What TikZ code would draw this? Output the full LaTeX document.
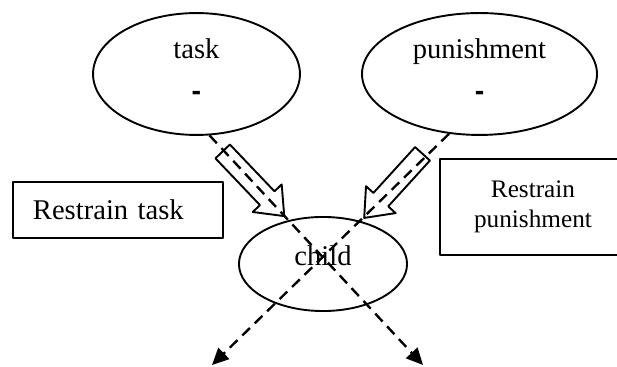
\documentclass[tikz,border=0pt]{standalone}
\usepackage{fontspec}
\setmainfont{Liberation Serif}
\setsansfont{Liberation Sans}
\usetikzlibrary{shapes.geometric,shapes.arrows,arrows.meta}

\begin{document}
\begin{tikzpicture}[line join=round, line cap=round, x=0.42pt, y=-0.42pt,
		>={Triangle[length=7pt,width=6.5pt]}]
	\tikzset{every node/.style={font=\fontsize{12}{14.5}\selectfont},
		oval/.style={draw, ellipse, line width=0.8pt, inner sep=0pt, align=center},
		note/.style={draw, rectangle, line width=0.8pt, inner sep=0pt},
		hollow/.style={draw, single arrow, line width=0.8pt, inner sep=3.8pt,
			single arrow head extend=4.2pt, single arrow tip angle=78},
		cut/.style={->, line width=1pt, line cap=butt, dash pattern=on 4.5pt off 2.8pt}}
	\clip (0,0) rectangle (617,367);
	% the three states
	\node[oval, minimum width=86.9pt, minimum height=51.2pt, text depth=3.4pt] (task) at (196.5,74) {task\\[3.1pt]\textbf{\sffamily -}};
	\node[oval, minimum width=98.7pt, minimum height=51.2pt, text depth=3.4pt] (punishment) at (479.5,74) {punishment\\[3.1pt]\textbf{\sffamily -}};
	\node[oval, minimum width=70.6pt, minimum height=39.5pt, text depth=7.4pt] (child) at (323,264) {child};
	% side notes
	\node[note, minimum width=88.2pt, minimum height=23.5pt, text width=71.4pt, inner xsep=8.4pt, align=left]
		(rtask) at (118,210) {Restrain task};
	\node[note, minimum width=78.1pt, minimum height=40.3pt, align=center,
		font=\fontsize{10.6}{12.6}\selectfont] (rpun) at (533,207) {Restrain\\punishment};
	% block arrows towards the child
	\node[hollow, minimum height=37.5pt, rotate=-46.4] (tpush) at (249.2,179.3) {};
	\node[hollow, minimum height=36.4pt, rotate=-132.3] (ppush) at (397.5,181.3) {};
	% crossed out influence
	\coordinate (endL) at (212,365);
	\coordinate (endR) at (423,365);
	\draw[cut] (task.-78) -- (endR);
	\draw[cut] (punishment.-117) -- (endL);
\end{tikzpicture}
\end{document}
